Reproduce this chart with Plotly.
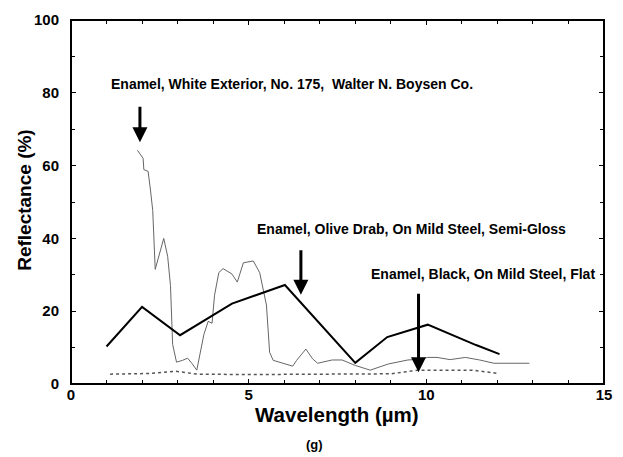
import plotly.graph_objects as go

# Enamel, Olive Drab, On Mild Steel, Semi-Gloss
olive_x = [1.0, 2.0, 3.07, 4.53, 6.02, 8.0, 8.9, 10.04, 11.4, 12.06]
olive_y = [10.3, 21.2, 13.4, 22.1, 27.2, 5.8, 12.9, 16.3, 10.7, 8.2]

# Enamel, White Exterior, No. 175, Walter N. Boysen Co.
white_x = [1.87, 1.98, 2.03, 2.05, 2.17, 2.24, 2.3, 2.37, 2.44, 2.61, 2.72, 2.8,
           2.86, 2.97, 3.14, 3.28, 3.4, 3.54, 3.74, 3.86, 3.97, 4.04, 4.16, 4.28,
           4.53, 4.68, 4.85, 5.13, 5.31, 5.5, 5.59, 5.69, 6.24, 6.35, 6.61, 6.8,
           6.94, 7.35, 7.63, 8.0, 8.42, 8.93, 9.48, 9.8, 10.04, 10.3, 10.67, 11.1,
           11.5, 11.9, 12.9]
white_y = [64.2, 62.9, 62.0, 58.9, 58.4, 53.0, 47.7, 31.5, 34.2, 40.0, 35.1, 27.0,
           10.9, 6.0, 6.5, 7.1, 5.7, 3.8, 13.6, 17.2, 16.7, 24.4, 30.6, 31.7,
           30.2, 28.0, 33.3, 33.8, 30.6, 21.7, 8.7, 6.5, 4.9, 6.5, 9.6, 6.9,
           5.7, 6.6, 6.6, 5.1, 3.8, 5.5, 6.6, 6.8, 7.3, 7.3, 6.7, 7.3,
           6.6, 5.7, 5.7]

# Enamel, Black, On Mild Steel, Flat
black_x = [1.1, 2.26, 2.95, 3.56, 5.0, 8.0, 9.0, 9.76, 10.78, 11.3, 12.03]
black_y = [2.7, 2.9, 3.5, 2.7, 2.6, 2.8, 2.8, 3.8, 3.9, 3.8, 2.9]

labels = ["Enamel, White Exterior, No. 175,  Walter N. Boysen Co.",
          "Enamel, Olive Drab, On Mild Steel, Semi-Gloss",
          "Enamel, Black, On Mild Steel, Flat"]
label_pos = [(1.06, 82.3), (5.19, 42.7), (8.39, 30.1)]
arrow_tips = [(1.94, 66.4), (6.47, 24.5), (9.78, 3.2)]
arrow_len = [37, 46, 80]

FONT = "Liberation Sans, Arial, sans-serif"
bold = dict(family=FONT, color="black", weight="bold")

fig = go.Figure()
fig.add_trace(go.Scatter(x=white_x, y=white_y, mode="lines",
                         line=dict(color="#666666", width=1)))
fig.add_trace(go.Scatter(x=black_x, y=black_y, mode="lines",
                         line=dict(color="#555555", width=1.5, dash="dot")))
fig.add_trace(go.Scatter(x=olive_x, y=olive_y, mode="lines",
                         line=dict(color="black", width=2)))

for txt, (lx, ly) in zip(labels, label_pos):
    fig.add_annotation(x=lx, y=ly, text=txt, showarrow=False, xanchor="left",
                       yanchor="middle", font=dict(size=14, **bold))

for (tx, ty), ln in zip(arrow_tips, arrow_len):
    fig.add_annotation(x=tx, y=ty, text="", showarrow=True, ax=0, ay=-ln,
                       arrowhead=2, arrowsize=1, arrowwidth=3, arrowcolor="black")

# axis titles as annotations so they sit where the original has them
fig.add_annotation(x=-0.087, y=0.505, xref="paper", yref="paper",
                   xanchor="center", yanchor="middle",
                   text="Reflectance (%)", textangle=-90, showarrow=False,
                   font=dict(size=19, **bold))
fig.add_annotation(x=0.499, y=-0.083, xref="paper", yref="paper",
                   xanchor="center", yanchor="middle",
                   text="Wavelength (µm)", showarrow=False,
                   font=dict(size=20.5, **bold))
fig.add_annotation(x=0.457, y=-0.167, xref="paper", yref="paper",
                   xanchor="center", yanchor="middle",
                   text="(g)", showarrow=False, font=dict(size=13, **bold))

# plot frame
fig.add_shape(type="rect", xref="paper", yref="paper", x0=0, x1=1, y0=0, y1=1,
              line=dict(color="black", width=2), layer="above")

axis_common = dict(showline=False, mirror="ticks",
                   ticks="inside", ticklen=5, tickcolor="black", tickwidth=1,
                   showgrid=False, zeroline=False, tickfont=dict(size=15, **bold))

fig.update_xaxes(range=[0, 15], dtick=5, tick0=0,
                 minor=dict(dtick=1, ticks="inside", ticklen=4, tickcolor="black"),
                 **axis_common)
fig.update_yaxes(range=[0, 100], dtick=20, tick0=0, ticklabelstandoff=11,
                 minor=dict(dtick=10, ticks="inside", ticklen=4, tickcolor="black"),
                 **axis_common)

fig.update_layout(width=623, height=457, showlegend=False,
                  margin=dict(l=71, r=11, t=12, b=73),
                  plot_bgcolor="white", paper_bgcolor="white")

fig.write_html("out.html", config={"displayModeBar": False},
               post_script="document.body.style.margin = '0';")
